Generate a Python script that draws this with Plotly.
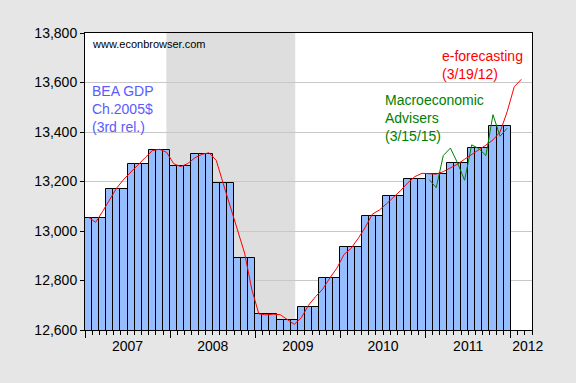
import plotly.graph_objects as go

# ---------------- data ----------------
quarters = ["2007Q1", "2007Q2", "2007Q3", "2007Q4", "2008Q1", "2008Q2", "2008Q3", "2008Q4",
            "2009Q1", "2009Q2", "2009Q3", "2009Q4", "2010Q1", "2010Q2", "2010Q3", "2010Q4",
            "2011Q1", "2011Q2", "2011Q3", "2011Q4"]
bea_gdp = [13051, 13168, 13270, 13326, 13261, 13310, 13193, 12890,
           12663, 12639, 12692, 12809, 12934, 13059, 13140, 13209,
           13230, 13274, 13334, 13423]

# e-forecasting monthly GDP, Jan 2007 - Feb 2012
eforecast = [13055, 13035, 13080, 13130, 13175, 13210, 13240, 13268, 13297, 13325, 13330, 13318,
             13272, 13260, 13273, 13296, 13310, 13316, 13285, 13190, 13100, 13005, 12910, 12765,
             12665, 12661, 12664, 12662, 12642, 12623, 12650, 12700, 12735, 12765, 12810, 12850,
             12905, 12930, 12970, 13015, 13068, 13085, 13110, 13135, 13164, 13195, 13220, 13233,
             13230, 13230, 13240, 13255, 13270, 13290, 13308, 13327, 13347, 13368, 13400, 13482,
             13583, 13613]
eforecast_start = "2007-01"

# Macroeconomic Advisers monthly GDP, Jan 2011 - Dec 2011
macro_adv = [13208, 13175, 13305, 13335, 13275, 13205, 13348, 13333, 13305, 13470, 13383, 13415]
macro_start = "2011-01"

year_labels = ["2007", "2008", "2009", "2010", "2011", "2012"]
recession = ("2007-12-15", "2009-06-20")

# ---------------- helpers: month index since Jan 2007 ----------------
def month_index(ym):
    y, m = int(ym[:4]), int(ym[5:7])
    return (y - 2007) * 12 + (m - 1)

def frac_month(date):
    y, m, d = int(date[:4]), int(date[5:7]), int(date[8:10])
    return (y - 2007) * 12 + (m - 1) + (d - 1) / 30.0

# monthly bars: each quarter value repeated for its 3 months
bar_x, bar_y = [], []
for qi, v in enumerate(bea_gdp):
    for k in range(3):
        bar_x.append(qi * 3 + k + 0.5)
        bar_y.append(v)

ef0 = month_index(eforecast_start)
ef_x = [ef0 + i + 0.5 for i in range(len(eforecast))]
ma0 = month_index(macro_start)
ma_x = [ma0 + i + 0.5 for i in range(len(macro_adv))]

x_range = [0, 63]
year_pos = [6, 18, 30, 42, 54, 62.4]

fig = go.Figure()
fig.add_trace(go.Bar(x=bar_x, y=bar_y, width=1,
                     marker=dict(color="#96BEFF", line=dict(color="black", width=1)),
                     showlegend=False, hoverinfo="skip"))
fig.add_trace(go.Scatter(x=ef_x, y=eforecast, mode="lines",
                         line=dict(color="#FF0000", width=1), showlegend=False))
fig.add_trace(go.Scatter(x=ma_x, y=macro_adv, mode="lines",
                         line=dict(color="#008000", width=1), showlegend=False))
# invisible trace on the label axis
fig.add_trace(go.Scatter(x=[year_pos[0]], y=[12700], xaxis="x2", mode="markers",
                         marker=dict(opacity=0), showlegend=False, hoverinfo="skip"))

fig.add_shape(type="rect", xref="x", yref="paper",
              x0=frac_month(recession[0]), x1=frac_month(recession[1]), y0=0, y1=1,
              fillcolor="#DEDEDE", line=dict(width=0), layer="below")

font_main = dict(family="Arial, Liberation Sans, sans-serif", size=14, color="black")

fig.update_layout(
    width=576, height=383,
    margin=dict(l=85, r=44, t=33, b=53),
    paper_bgcolor="#E6E6E6", plot_bgcolor="white",
    font=font_main,
    bargap=0,
    xaxis=dict(range=x_range, showgrid=False, zeroline=False,
               showline=True, linecolor="black", linewidth=1, mirror=True,
               tickmode="linear", tick0=0, dtick=12, ticks="outside", ticklen=7,
               tickcolor="black", showticklabels=False,
               minor=dict(tickmode="linear", tick0=0, dtick=1, ticks="outside",
                          ticklen=4, tickcolor="black", showgrid=False)),
    xaxis2=dict(range=x_range, overlaying="x", anchor="y", side="bottom",
                showgrid=False, zeroline=False, showline=False,
                tickmode="array", tickvals=year_pos, ticktext=year_labels,
                ticks="outside", ticklen=3, tickcolor="rgba(0,0,0,0)",
                tickfont=font_main),
    yaxis=dict(range=[12600, 13800], tickmode="linear", tick0=12600, dtick=200,
               tickformat=",d", showgrid=True, gridcolor="#C8C8C8", gridwidth=1,
               zeroline=False, showline=True, linecolor="black", linewidth=1, mirror=True,
               ticks="outside", ticklen=4, tickcolor="black", tickfont=font_main),
)

fig.add_annotation(x=0.75, y=13756, xref="x", yref="y", xanchor="left", yanchor="middle",
                   text="www.econbrowser.com", showarrow=False,
                   font=dict(family="Arial, Liberation Sans, sans-serif", size=11, color="black"))
fig.add_annotation(x=0.7, y=13492, xref="x", yref="y", xanchor="left", yanchor="middle",
                   align="left", text="BEA GDP<br>Ch.2005$<br>(3rd rel.)", showarrow=False,
                   font=dict(family="Arial, Liberation Sans, sans-serif", size=14, color="#5A5AFF"))
fig.add_annotation(x=42.0, y=13455, xref="x", yref="y", xanchor="left", yanchor="middle",
                   align="left", text="Macroeconomic<br>Advisers<br>(3/15/15)", showarrow=False,
                   font=dict(family="Arial, Liberation Sans, sans-serif", size=14, color="#008000"))
fig.add_annotation(x=50.1, y=13669, xref="x", yref="y", xanchor="left", yanchor="middle",
                   align="left", text="e-forecasting<br>(3/19/12)", showarrow=False,
                   font=dict(family="Arial, Liberation Sans, sans-serif", size=14, color="#FF0000"))

fig.write_html("out.html", config={"displayModeBar": False},
               post_script="document.body.style.margin='0';document.body.style.background='#E6E6E6';")
